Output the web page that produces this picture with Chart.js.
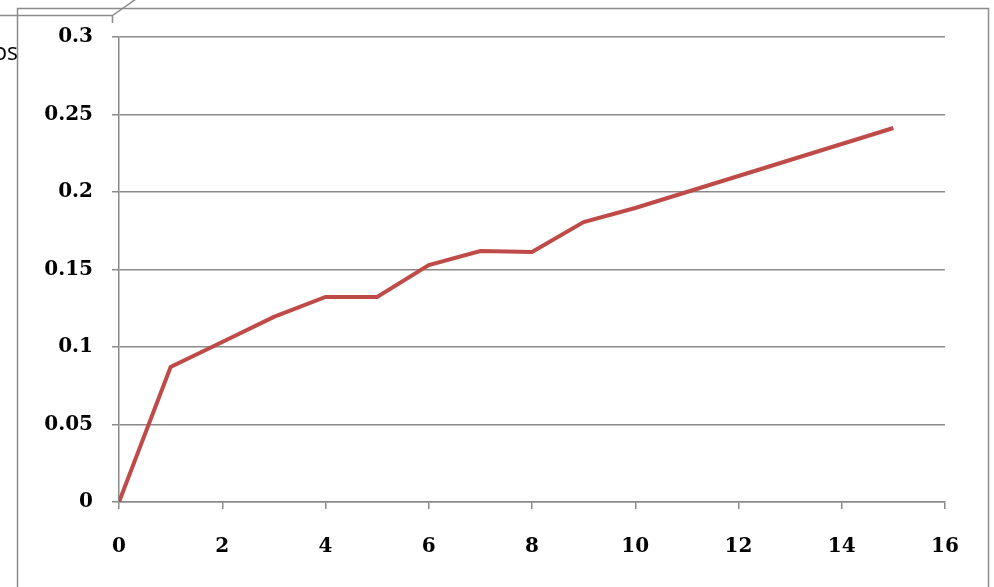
<!DOCTYPE html>
<html>
<head>
<meta charset="utf-8">
<script src="https://cdn.jsdelivr.net/npm/chart.js@4.4.1/dist/chart.umd.min.js"></script>
<style>
  html, body { margin: 0; padding: 0; background: #ffffff; }
  #wrap { position: relative; width: 994px; height: 587px; overflow: hidden; }
  #note { position: absolute; right: 976px; top: 35px; line-height: 30px; font: 23px "Open Sans", "Liberation Sans", sans-serif; color: #000; white-space: nowrap; }
</style>
</head>
<body>
<div id="wrap">
  <canvas id="c" width="994" height="587"></canvas>
  <div id="note">os</div>
</div>
<script>
// Measured series: x position and value
const xValues = [0, 1, 2, 3, 4, 5, 6, 7, 8, 9, 10, 15];
const yValues = [0, 0.0871, 0.1032, 0.1194, 0.1323, 0.1323, 0.1529, 0.1619, 0.1613, 0.1806, 0.1897, 0.2413];
const xTicks = [0, 2, 4, 6, 8, 10, 12, 14, 16];
const yTicks = [0, 0.05, 0.1, 0.15, 0.2, 0.25, 0.3];

const points = xValues.map((x, i) => ({ x: x, y: yValues[i] }));
const gridGray = '#8a8a8a';
const tickFont = { family: '"DejaVu Serif", serif', size: 20, weight: 'bold' };

// Outer frame and the cut-off callout lines in the top-left corner
const framePlugin = {
  id: 'frame',
  beforeDraw(chart) {
    const ctx = chart.ctx;
    ctx.save();
    ctx.fillStyle = '#ffffff';
    ctx.fillRect(0, 0, chart.width, chart.height);
    ctx.strokeStyle = '#8c8c8c';
    ctx.lineWidth = 1.5;
    ctx.strokeRect(17.5, 8.5, 971, 640);
    ctx.beginPath();
    ctx.moveTo(0, 15.5);
    ctx.lineTo(112.5, 15.5);
    ctx.lineTo(136, -1);
    ctx.moveTo(112.5, 15.5);
    ctx.lineTo(112.5, 23);
    ctx.stroke();
    ctx.restore();
  }
};

new Chart(document.getElementById('c'), {
  type: 'line',
  data: {
    datasets: [{
      data: points,
      borderColor: '#be4b48',
      borderWidth: 4,
      pointRadius: 0,
      tension: 0,
      fill: false
    }]
  },
  options: {
    responsive: false,
    animation: false,
    plugins: { legend: { display: false }, tooltip: { enabled: false } },
    layout: { padding: { top: 37, right: 49, left: 0, bottom: 0 } },
    scales: {
      x: {
        type: 'linear',
        min: 0, max: 16,
        afterBuildTicks(scale) { scale.ticks = xTicks.map(v => ({ value: v })); },
        afterFit(scale) { scale.height = 85; },
        grid: { drawOnChartArea: false, drawTicks: true, tickLength: 7, color: gridGray, lineWidth: 1.5 },
        border: { display: true, color: gridGray, width: 1.5 },
        ticks: { color: '#000', padding: 26, maxRotation: 0, font: tickFont }
      },
      y: {
        min: 0, max: 0.3,
        afterBuildTicks(scale) { scale.ticks = yTicks.map(v => ({ value: v })); },
        afterFit(scale) { scale.width = 119; },
        grid: { drawOnChartArea: true, drawTicks: true, tickLength: 7, color: gridGray, lineWidth: 1.5 },
        border: { display: true, color: gridGray, width: 1.5 },
        ticks: {
          color: '#000',
          padding: 19,
          callback: v => String(Math.round(v * 100) / 100),
          font: tickFont
        }
      }
    }
  },
  plugins: [framePlugin]
});
</script>
</body>
</html>
